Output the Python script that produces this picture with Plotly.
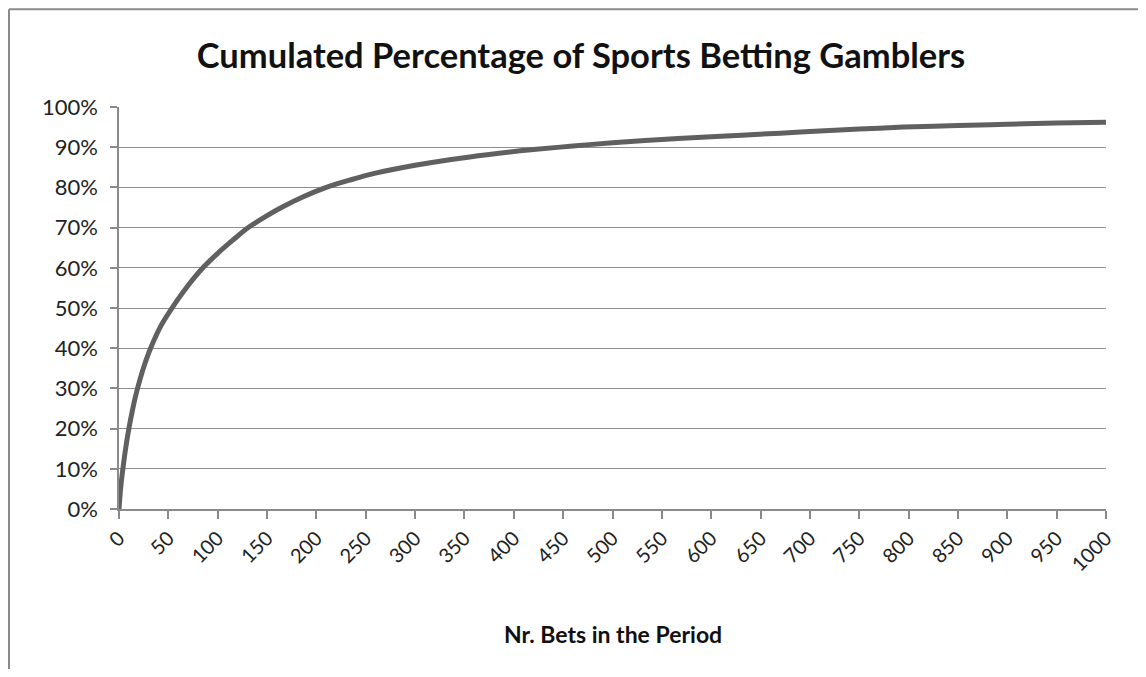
import plotly.graph_objects as go

# Data
bets = [0, 2, 5, 7, 10, 14, 17, 21, 26, 32, 43, 57, 70, 85, 100, 115, 131, 150,
        166, 185, 210, 235, 261, 300, 335, 375, 420, 460, 500, 550, 600, 670,
        700, 750, 795, 850, 900, 950, 1000]
cum_pct = [0.0, 0.06, 0.12, 0.155, 0.20, 0.25, 0.283, 0.32, 0.36, 0.40, 0.458,
           0.512, 0.556, 0.60, 0.636, 0.668, 0.70, 0.73, 0.752, 0.775, 0.80,
           0.819, 0.836, 0.855, 0.869, 0.882, 0.894, 0.903, 0.911, 0.919, 0.926,
           0.935, 0.939, 0.945, 0.950, 0.954, 0.957, 0.960, 0.962]
x_ticks = list(range(0, 1001, 50))
y_ticks = [i / 10 for i in range(11)]

title_text = "Cumulated Percentage of Sports Betting Gamblers"
x_title = "Nr. Bets in the Period"

OFF = 8  # page body margin
W, H = 1146 - OFF, 677 - 2 * OFF
L, R, T, B = 119 - OFF, 1106 - OFF, 106.7 - OFF, 508.7 - OFF

FONT = "Lato"

fig = go.Figure()
fig.add_trace(go.Scatter(x=bets, y=cum_pct, mode="lines",
                         line=dict(color="#606060", width=5, shape="spline", smoothing=1.0),
                         hoverinfo="x+y"))

def px2paper_x(px):
    return (px - OFF - L) / (R - L)

def px2paper_y(py):
    return (B - (py - OFF)) / (B - T)

shapes = [
    # chart border: left and top edges (the others fall outside the picture)
    dict(type="line", xref="paper", yref="paper",
         x0=px2paper_x(9), x1=px2paper_x(9), y0=px2paper_y(9), y1=px2paper_y(700),
         line=dict(color="#8a8a8a", width=2), layer="below"),
    dict(type="line", xref="paper", yref="paper",
         x0=px2paper_x(9), x1=px2paper_x(1200), y0=px2paper_y(9), y1=px2paper_y(9),
         line=dict(color="#8a8a8a", width=2), layer="below"),
]

fig.update_layout(
    width=W, height=H,
    margin=dict(l=L, r=W - R, t=T, b=H - B, autoexpand=False),
    paper_bgcolor="white", plot_bgcolor="white",
    showlegend=False,
    shapes=shapes,
    title=dict(text=f"<b>{title_text}</b>", x=(581 - OFF) / W, xref="container",
               xanchor="center", y=1 - (56 - OFF) / H, yref="container", yanchor="middle",
               font=dict(family=FONT, size=34.5, color="#111111")),
    annotations=[dict(text=f"<b>{x_title}</b>", x=0.5, xref="paper",
                      y=px2paper_y(634), yref="paper", showarrow=False,
                      xanchor="center", yanchor="middle",
                      font=dict(family=FONT, size=23, color="#111111"))],
)

fig.update_xaxes(range=[0, 1000], tickmode="array", tickvals=x_ticks,
                 ticktext=[str(v) for v in x_ticks], tickangle=-45, automargin=False,
                 ticks="outside", ticklen=8, tickcolor="#8a8a8a", tickwidth=1.5,
                 showline=True, linecolor="#8a8a8a", linewidth=1.5,
                 showgrid=False, zeroline=False,
                 tickfont=dict(family=FONT, size=20, color="#222222"))
fig.update_yaxes(range=[0, 1], tickmode="array", tickvals=y_ticks, automargin=False,
                 ticktext=[f"{int(round(v * 100))}%" for v in y_ticks],
                 ticks="outside", ticklen=7, tickcolor="#8a8a8a", tickwidth=1.5,
                 showline=True, linecolor="#8a8a8a", linewidth=1.5,
                 showgrid=True, gridcolor="#8f8f8f", gridwidth=1.2, zeroline=False,
                 ticklabelstandoff=8,
                 tickfont=dict(family=FONT, size=22, color="#222222"))

fig.write_html("out.html")
